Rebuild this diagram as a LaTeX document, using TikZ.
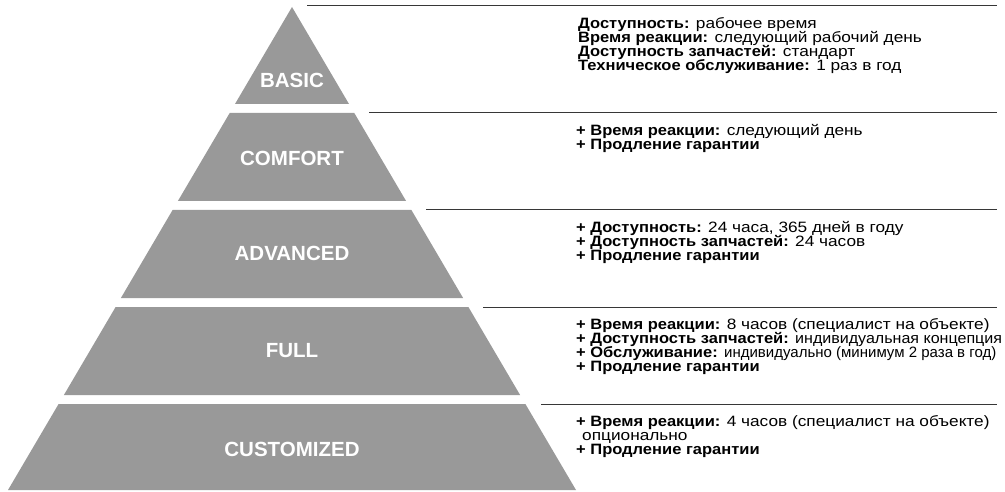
\documentclass[tikz,border=0pt]{standalone}
\usepackage{fontspec}
\setmainfont{Liberation Sans}[FakeStretch=1.15,BoldFeatures={FakeStretch=1.1}]
\newfontfamily\lblfont{Liberation Sans}
\usepackage{graphicx}
\usepackage{xcolor}
\usetikzlibrary{positioning}
\definecolor{pyrgray}{RGB}{153,153,153}
\definecolor{rulegray}{RGB}{55,55,55}
\newcommand\tightlines{\lineskiplimit=-20pt\relax\lineskip=0pt\relax}

\begin{document}
\begin{tikzpicture}[x=1pt,y=-1pt,
  tier/.style={fill=pyrgray,draw=none},
  lvl/.style={text=white,inner sep=0pt,font=\lblfont\fontsize{20.5}{22}\selectfont\bfseries},
  info/.style={anchor=north west,inner sep=0pt,align=left,
    font=\fontsize{15}{13.9}\selectfont\tightlines},
  rule/.style={draw=rulegray,line width=1pt}]
  \useasboundingbox (0,0) rectangle (1005,492);

  % pyramid tiers
  \fill[tier] (292,7) -- (349,104) -- (235,104) -- cycle;
  \fill[tier] (229.7,113) -- (354.3,113) -- (406.1,201) -- (177.9,201) -- cycle;
  \fill[tier] (172.6,210) -- (411.4,210) -- (463.1,298) -- (120.9,298) -- cycle;
  \fill[tier] (115.6,307) -- (468.4,307) -- (520.1,395) -- (63.9,395) -- cycle;
  \fill[tier] (58.6,404) -- (525.4,404) -- (576,490) -- (8,490) -- cycle;

  \node[lvl] (basic) at (292,80) {BASIC};
  \node[lvl] (comfort) at (292,158) {COMFORT};
  \node[lvl] (advanced) at (292,253) {ADVANCED};
  \node[lvl] (full) at (292,351) {FULL};
  \node[lvl] (custom) at (292,449) {CUSTOMIZED};

  % rules at the top of each tier
  \coordinate (r1a) at (307,6);   \coordinate (r1b) at (997,6);
  \coordinate (r2a) at (369,113); \coordinate (r2b) at (997,113);
  \coordinate (r3a) at (426,210); \coordinate (r3b) at (997,210);
  \coordinate (r4a) at (483,307); \coordinate (r4b) at (997,307);
  \coordinate (r5a) at (541,404); \coordinate (r5b) at (997,404);
  \draw[rule] (r1a) -- (r1b);
  \draw[rule] (r2a) -- (r2b);
  \draw[rule] (r3a) -- (r3b);
  \draw[rule] (r4a) -- (r4b);
  \draw[rule] (r5a) -- (r5b);

  % descriptions
  \node[info] (basictxt) at (578,17.5) {\textbf{Доступность:} рабочее время\\
    \textbf{Время реакции:} следующий рабочий день\\
    \textbf{Доступность запчастей:} стандарт\\
    \textbf{Техническое обслуживание:} 1 раз в год};
  \node[info] (comforttxt) at (576,124.5) {\textbf{+ Время реакции:} следующий день\\
    \textbf{+ Продление гарантии}};
  \node[info] (advancedtxt) at (576,221.5) {\textbf{+ Доступность:} 24 часа, 365 дней в году\\
    \textbf{+ Доступность запчастей:} 24 часов\\
    \textbf{+ Продление гарантии}};
  \node[info] (fulltxt) at (576,318.5) {\textbf{+ Время реакции:} 8 часов (специалист на объекте)\\
    \textbf{+ Доступность запчастей:} \scalebox{0.93}[1]{индивидуальная концепция}\\
    \textbf{+ Обслуживание:} \scalebox{0.87}[1]{индивидуально (минимум 2 раза в год)}\\
    \textbf{+ Продление гарантии}};
  \node[info] (customtxt) at (576,415.5) {\textbf{+ Время реакции:} 4 часов (специалист на объекте)\\
    \hspace*{6pt}опционально\\
    \textbf{+ Продление гарантии}};
\end{tikzpicture}
\end{document}
